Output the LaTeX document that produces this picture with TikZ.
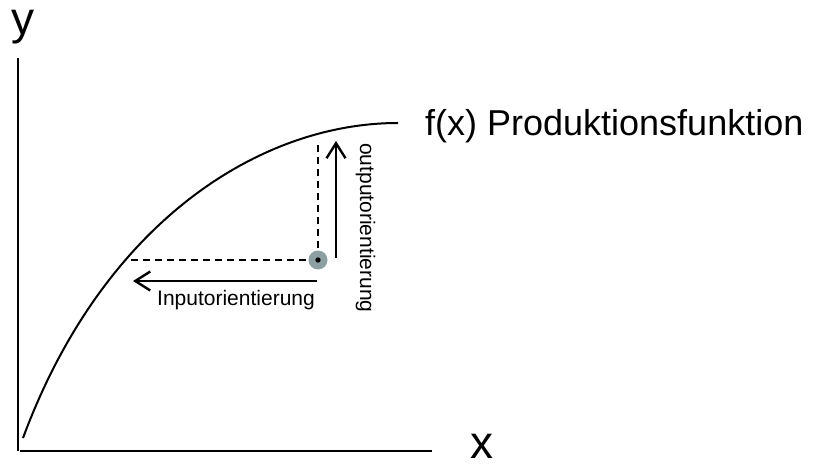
\documentclass[tikz,border=0pt]{standalone}
\usepackage{fontspec}
\setmainfont{Liberation Sans}
\usetikzlibrary{arrows.meta}
\definecolor{pointgray}{RGB}{140,160,162}
\begin{document}
\begin{tikzpicture}[x=1pt,y=-1pt,
  axis/.style={line width=2.3pt},
  curve/.style={line width=2pt},
  guide/.style={line width=1.6pt, dash pattern=on 7pt off 5pt},
  orient/.style={line width=2.6pt, -{Straight Barb[length=15pt,width=19pt,line width=2.4pt]}},
  big/.style={font=\fontsize{46}{50}\selectfont, inner sep=0pt},
  mid/.style={font=\fontsize{36}{40}\selectfont, inner sep=0pt},
  small/.style={font=\fontsize{21}{24}\selectfont, inner sep=0pt}]
\useasboundingbox (0,0) rectangle (819,465);
% axes
\coordinate (ytop) at (18,58);
\coordinate (ybot) at (18,451);
\coordinate (xleft) at (20,451);
\coordinate (xright) at (432,451);
\draw[axis] (ybot) -- (ytop);
\draw[axis] (xleft) -- (xright);
% production function
\coordinate (c0) at (23,438);
\coordinate (c1) at (398,123);
\draw[curve] (c0) .. controls (103,222) and (260,123) .. (c1);
% guides
\coordinate (p) at (318,260);
\coordinate (hit) at (126,260);
\coordinate (top) at (318,142);
\draw[guide] (p) -- (hit);
\draw[guide] (p) -- (top);
\node[circle, fill=pointgray, minimum size=19pt, inner sep=0pt] (P) at (p) {};
\fill (P.center) circle (2.7pt);
% orientation arrows
\coordinate (os) at (336,258);
\coordinate (oe) at (336,141);
\coordinate (is) at (317,281);
\coordinate (ie) at (133,281);
\draw[orient] (os) -- (oe);
\draw[orient] (is) -- (ie);
% labels
\node[big, anchor=base] (ylab) at (22.5,35) {y};
\node[big, anchor=base, text depth=0pt] (xlab) at (481.5,458) {x};
\node[mid, anchor=base west] (flab) at (425,136) {f(x) Produktionsfunktion};
\node[small, anchor=base west] (ilab) at (157,305) {Inputorientierung};
\node[small, anchor=base west, rotate=-90] (olab) at (360,143) {outputorientierung};
\end{tikzpicture}
\end{document}
